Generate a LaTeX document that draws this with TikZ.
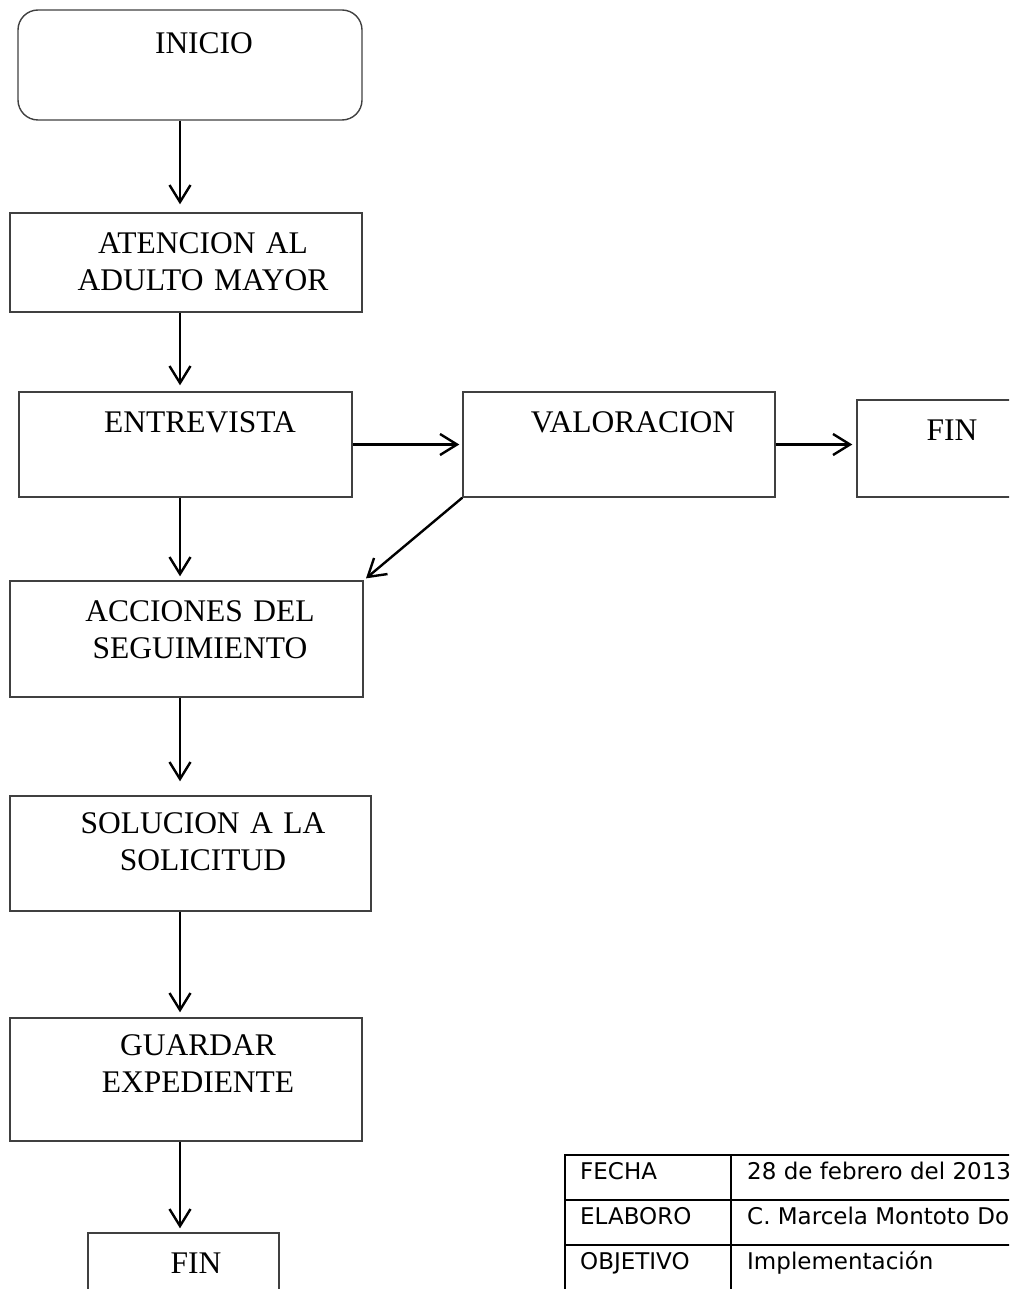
\documentclass[tikz,border=0pt]{standalone}
\usepackage{fontspec}
\setmainfont{Liberation Serif}
\newfontfamily\tabfont{DejaVu Sans}
\usetikzlibrary{arrows.meta}

\begin{document}
\begin{tikzpicture}[
	x=1pt, y=-1pt,
	proc/.style={rectangle,draw=black!75,line width=1.4pt,inner sep=0pt},
	start/.style={proc,rounded corners=20pt},
	lbl/.style={anchor=base,align=center,inner sep=0pt,text width=300pt,
	font=\fontsize{31.5}{37}\selectfont},
	cell/.style={anchor=base west,inner sep=0pt,font=\tabfont\fontsize{23}{27}\selectfont},
	tab/.style={draw=black,line width=2pt},
	flow/.style={>={Straight Barb[length=17pt,width=21pt]},draw=black,line width=2.4pt,->},
	]
	\clip (0,0) rectangle (1009,1289);
	\coordinate (col) at (180,0);
	\node[start, minimum width=344pt, minimum height=110pt] (inicio) at (190,65) {};
	\node[proc, minimum width=352pt, minimum height=99pt] (atencion) at (186,262.5) {};
	\node[proc, minimum width=333pt, minimum height=105pt] (entrevista) at (185.5,444.5) {};
	\node[proc, minimum width=312pt, minimum height=105pt] (valoracion) at (619,444.5) {};
	\node[proc, minimum width=173pt, minimum height=97pt] (fina) at (943.5,448.5) {};
	\node[proc, minimum width=353pt, minimum height=116pt] (acciones) at (186.5,639) {};
	\node[proc, minimum width=361pt, minimum height=115pt] (solucion) at (190.5,853.5) {};
	\node[proc, minimum width=352pt, minimum height=123pt] (guardar) at (186,1079.5) {};
	\node[proc, minimum width=191pt, minimum height=77pt] (finb) at (183.5,1271.5) {};

	\node[lbl] (tinicio) at (204,54) {INICIO};
	\node[lbl] (tatencion) at (203,253) {ATENCION AL\\ADULTO MAYOR};
	\node[lbl] (tentrevista) at (200,432) {ENTREVISTA};
	\node[lbl] (tvaloracion) at (633,432) {VALORACION};
	\node[lbl] (tfina) at (952,440) {FIN};
	\node[lbl] (tacciones) at (200,621) {ACCIONES DEL\\SEGUIMIENTO};
	\node[lbl] (tsolucion) at (203,833) {SOLUCION A LA\\SOLICITUD};
	\node[lbl] (tguardar) at (198,1055) {GUARDAR\\EXPEDIENTE};
	\node[lbl] (tfinb) at (196,1273) {FIN};

	\draw[flow, shorten >=8pt] (inicio.south -| col) -- (atencion.north -| col);
	\draw[flow, shorten >=6pt] (atencion.south -| col) -- (entrevista.north -| col);
	\draw[flow, shorten >=4pt] (entrevista.south -| col) -- (acciones.north -| col);
	\draw[flow, shorten >=14pt] (acciones.south -| col) -- (solucion.north -| col);
	\draw[flow, shorten >=5pt] (solucion.south -| col) -- (guardar.north -| col);
	\draw[flow, shorten >=4pt] (guardar.south -| col) -- (finb.north -| col);
	\draw[flow, shorten >=3pt] (entrevista.east) -- (valoracion.west);
	\draw[flow, shorten >=4pt] (valoracion.east) -- (valoracion.east -| fina.west);
	\draw[flow, shorten >=3pt] (valoracion.south west) -- (acciones.north east);

	\draw[tab] (565,1300) |- (1030,1155);
	\draw[tab] (565,1200) -- (1030,1200);
	\draw[tab] (565,1245) -- (1030,1245);
	\draw[tab] (731,1155) -- (731,1300);
	\node[cell] (fecha) at (580,1179) {FECHA};
	\node[cell] (fechav) at (747,1179) {28 de febrero del 2013};
	\node[cell] (elaboro) at (580,1224) {ELABORO};
	\node[cell] (elaborov) at (747,1224) {C. Marcela Montoto Do};
	\node[cell] (objetivo) at (580,1269) {OBJETIVO};
	\node[cell] (objetivov) at (747,1269) {Implementación};
\end{tikzpicture}
\end{document}
